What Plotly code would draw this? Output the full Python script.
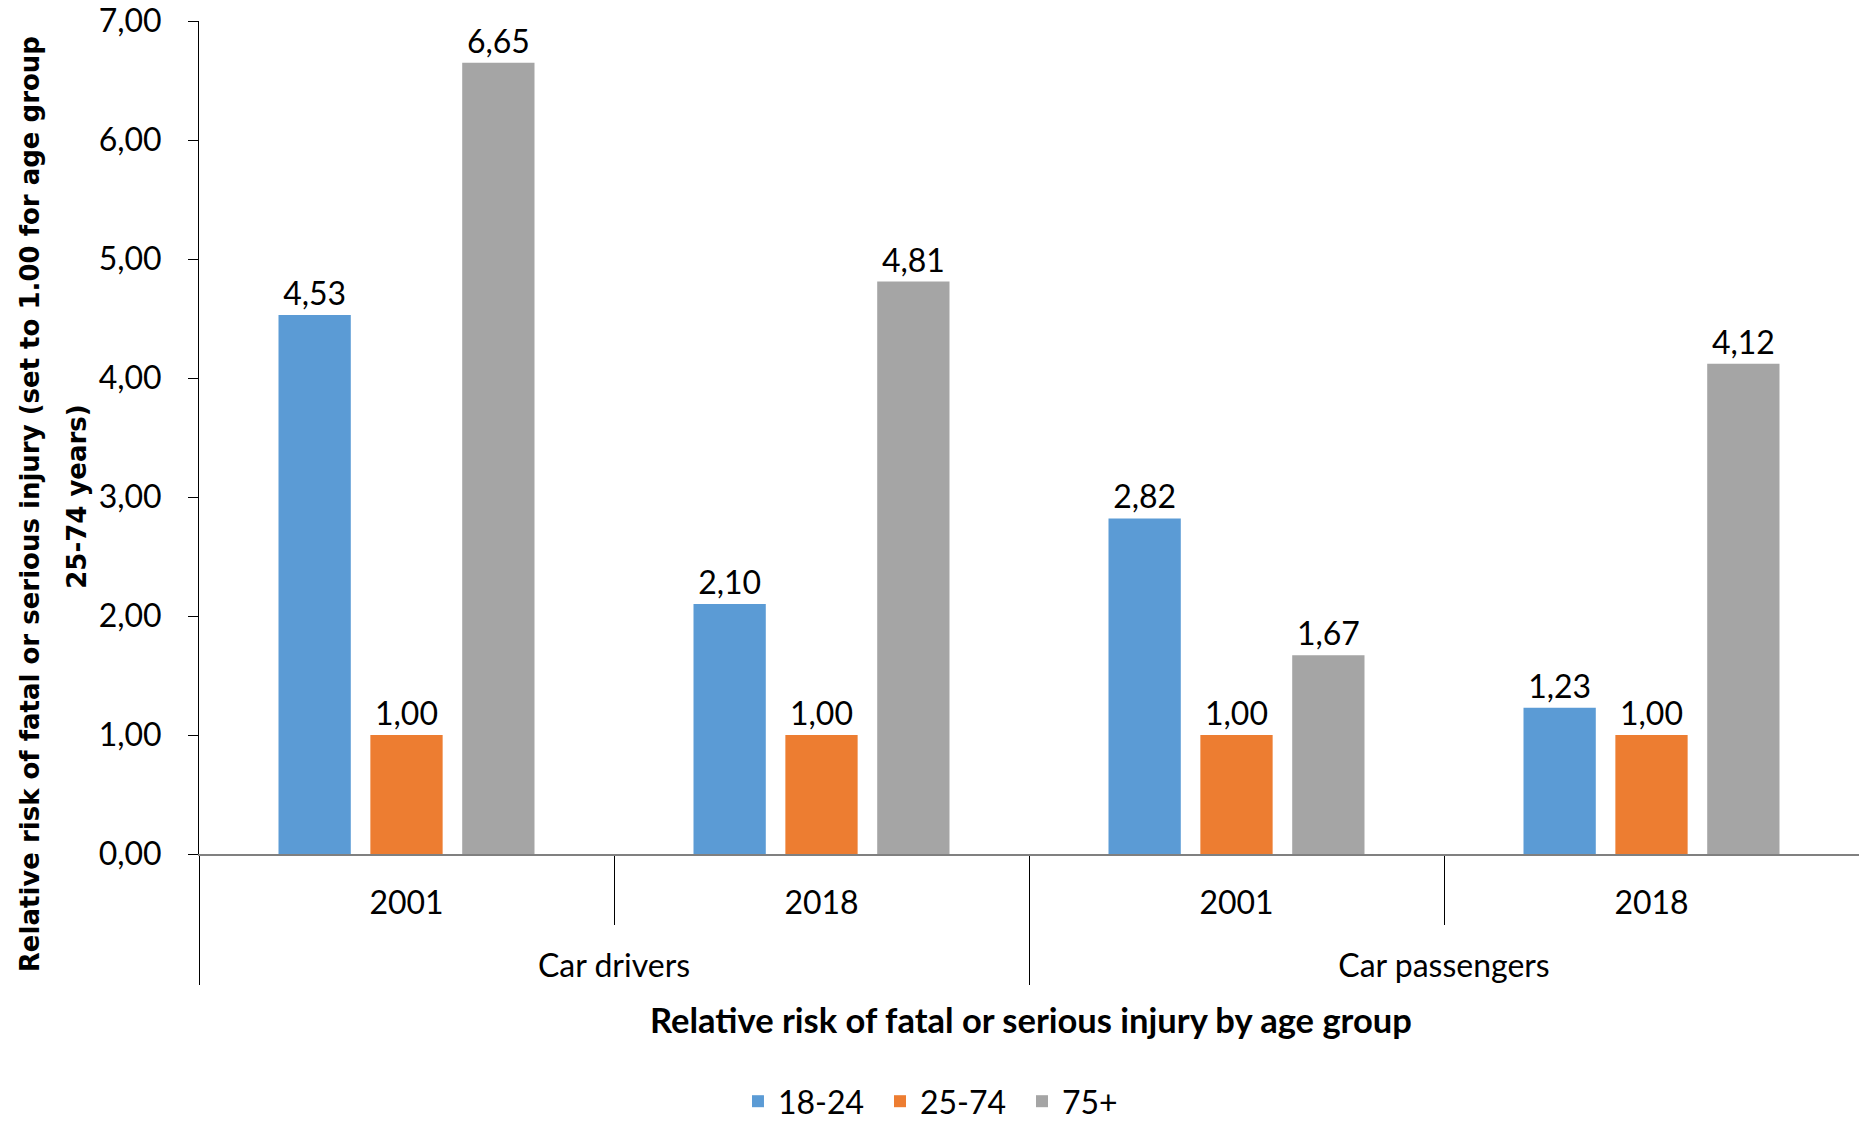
import plotly.graph_objects as go

groups = ["Car drivers", "Car drivers", "Car passengers", "Car passengers"]
years = ["2001", "2018", "2001", "2018"]
series_names = ["18-24", "25-74", "75+"]
values_18_24 = [4.53, 2.10, 2.82, 1.23]
values_25_74 = [1.00, 1.00, 1.00, 1.00]
values_75p = [6.65, 4.81, 1.67, 4.12]
colors = ["#5B9BD5", "#ED7D31", "#A5A5A5"]

FONT = "Lato"
# outer-level labels sit one line lower than plotly's default placement
outer_labels = ["<br>" + g for g in groups]

fig = go.Figure()
for name, vals, col in zip(series_names, [values_18_24, values_25_74, values_75p], colors):
    fig.add_trace(go.Bar(
        x=[outer_labels, years], y=vals, name=name,
        marker=dict(color=col, line=dict(width=0)),
        texttemplate="%{y:.2f}", textposition="outside",
        textfont=dict(family=FONT, size=32, color="#000000"),
        cliponaxis=False,
    ))

fig.update_layout(
    width=1859, height=1121,
    margin=dict(l=199, r=0, t=21, b=267, autoexpand=False),
    paper_bgcolor="white", plot_bgcolor="white",
    separators=",.",
    barmode="group", bargap=0.336, bargroupgap=0.213,
    font=dict(family=FONT, size=32, color="#000000"),
    showlegend=True,
    legend=dict(orientation="h", x=0.453, xanchor="center", y=-0.297, yanchor="middle",
                entrywidth=97,
                font=dict(family=FONT, size=32, color="#000000"), traceorder="normal"),
)
fig.update_xaxes(
    type="multicategory",
    showline=True, linecolor="#808080", linewidth=2,
    ticks="outside", ticklen=69, tickcolor="#000000", tickwidth=1,
    ticklabelstandoff=20,
    showdividers=True, dividercolor="#000000", dividerwidth=1,
    tickfont=dict(family=FONT, size=32, color="#000000"),
    showgrid=False,
)
fig.update_yaxes(
    range=[0, 7], dtick=1, tickformat=".2f",
    showline=True, linecolor="#000000", linewidth=1,
    ticks="outside", ticklen=10, tickcolor="#000000",
    ticklabelstandoff=20,
    tickfont=dict(family=FONT, size=32, color="#000000"),
    showgrid=False, zeroline=False,
)

fig.add_annotation(
    text="<b>Relative risk of fatal or serious injury (set to 1.00 for age group</b>",
    xref="paper", yref="paper", x=-0.1018, y=0.42, xanchor="center", yanchor="middle",
    textangle=-90, showarrow=False, align="center",
    font=dict(family="DejaVu Sans", size=26, color="#000000"),
)
fig.add_annotation(
    text="<b>25-74 years)</b>",
    xref="paper", yref="paper", x=-0.0735, y=0.43, xanchor="center", yanchor="middle",
    textangle=-90, showarrow=False, align="center",
    font=dict(family="DejaVu Sans", size=26, color="#000000"),
)
fig.add_annotation(
    text="<b>Relative risk of fatal or serious injury by age group</b>",
    xref="paper", yref="paper", x=0.501, y=-0.199, xanchor="center", yanchor="middle",
    showarrow=False, font=dict(family=FONT, size=34.5, color="#000000"),
)
fig.write_html("out.html", config={"displayModeBar": False},
               post_script="document.body.style.margin='0px';")
